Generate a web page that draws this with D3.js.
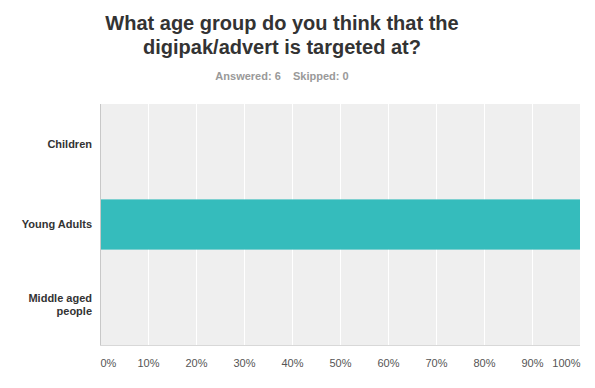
<!DOCTYPE html>
<html>
<head>
<meta charset="utf-8">
<script src="https://cdn.jsdelivr.net/npm/d3@7"></script>
<style>
  body { margin: 0; background: #fff; }
  text { font-family: Arial, "Liberation Sans", sans-serif; }
</style>
</head>
<body>
<div id="chart"></div>
<script>
const categories = ["Children", "Young Adults", "Middle aged people"]
const values = [0, 100, 0]
const ticks = [0, 10, 20, 30, 40, 50, 60, 70, 80, 90, 100]
const titleLines = ["What age group do you think that the", "digipak/advert is targeted at?"]
const subtitle = "Answered: 6    Skipped: 0"

const width = 595
const height = 388
const margin = {top: 104, right: 15, bottom: 45, left: 100}

const svg = d3.select("#chart")
  .append("svg")
    .attr("width", width)
    .attr("height", height)

// title
svg.append("g")
  .selectAll("text")
  .data(titleLines)
  .join("text")
    .attr("x", 282)
    .attr("y", (d, i) => 30 + i * 24)
    .attr("text-anchor", "middle")
    .style("font-size", "20px")
    .style("font-weight", "bold")
    .style("fill", "#333")
    .text(d => d)

svg.append("text")
  .attr("x", 282)
  .attr("y", 80)
  .attr("text-anchor", "middle")
  .style("font-size", "11px")
  .style("font-weight", "bold")
  .style("fill", "#999")
  .style("white-space", "pre")
  .text(subtitle)

const xScale = d3.scaleLinear()
  .domain([0, 100])
  .range([margin.left, width - margin.right])

const yScale = d3.scaleBand()
  .domain(categories)
  .range([margin.top, height - margin.bottom + 2])
  .paddingInner(0.375)
  .paddingOuter(0.1875)

const plotTop = margin.top
const plotBottom = height - margin.bottom + 2

// plot background
svg.append("rect")
  .attr("x", xScale(0))
  .attr("y", plotTop)
  .attr("width", xScale(100) - xScale(0))
  .attr("height", plotBottom - plotTop)
  .style("fill", "#efefef")

// gridlines
svg.append("g")
  .selectAll("line")
  .data(ticks.slice(1, -1))
  .join("line")
    .attr("x1", d => xScale(d) + 0.5)
    .attr("x2", d => xScale(d) + 0.5)
    .attr("y1", plotTop)
    .attr("y2", plotBottom)
    .style("stroke", "#fff")
    .style("stroke-width", 1)

// bars
svg.append("g")
  .selectAll("rect")
  .data(categories)
  .join("rect")
    .attr("x", xScale(0))
    .attr("y", d => yScale(d))
    .attr("width", (d, i) => xScale(values[i]) - xScale(0))
    .attr("height", yScale.bandwidth())
    .style("fill", "#35bcbc")

// left and bottom borders
svg.append("line")
  .attr("x1", xScale(0) + 0.5).attr("x2", xScale(0) + 0.5)
  .attr("y1", plotTop).attr("y2", plotBottom)
  .style("stroke", "#c8c8c8")
svg.append("line")
  .attr("x1", xScale(0)).attr("x2", xScale(100))
  .attr("y1", plotBottom + 0.5).attr("y2", plotBottom + 0.5)
  .style("stroke", "#d8d8d8")

// x axis
const xAxis = svg.append("g")
  .attr("transform", `translate(0, ${plotBottom})`)
  .call(d3.axisBottom(xScale).tickValues(ticks).tickSize(0).tickPadding(14).tickFormat(d => d + "%"))
  .call(g => g.select(".domain").remove())
xAxis.selectAll("text")
  .style("font-size", "11px")
  .style("fill", "#555")
  .style("font-family", "Arial, 'Liberation Sans', sans-serif")
  .attr("text-anchor", d => d === 0 ? "start" : d === 100 ? "end" : "middle")

// y axis
const yAxis = svg.append("g")
  .attr("transform", `translate(${margin.left}, 0)`)
  .call(d3.axisLeft(yScale).tickSize(0).tickPadding(8))
  .call(g => g.select(".domain").remove())
yAxis.selectAll("text")
  .style("font-size", "11px")
  .style("font-weight", "bold")
  .style("fill", "#333")
  .style("font-family", "Arial, 'Liberation Sans', sans-serif")
  .each(function(d) {
    const t = d3.select(this)
    if (d === "Middle aged people") {
      t.text(null)
      t.append("tspan").attr("x", -8).attr("dy", "-0.25em").text("Middle aged")
      t.append("tspan").attr("x", -8).attr("dy", "1.15em").text("people")
    }
  })
</script>
</body>
</html>
